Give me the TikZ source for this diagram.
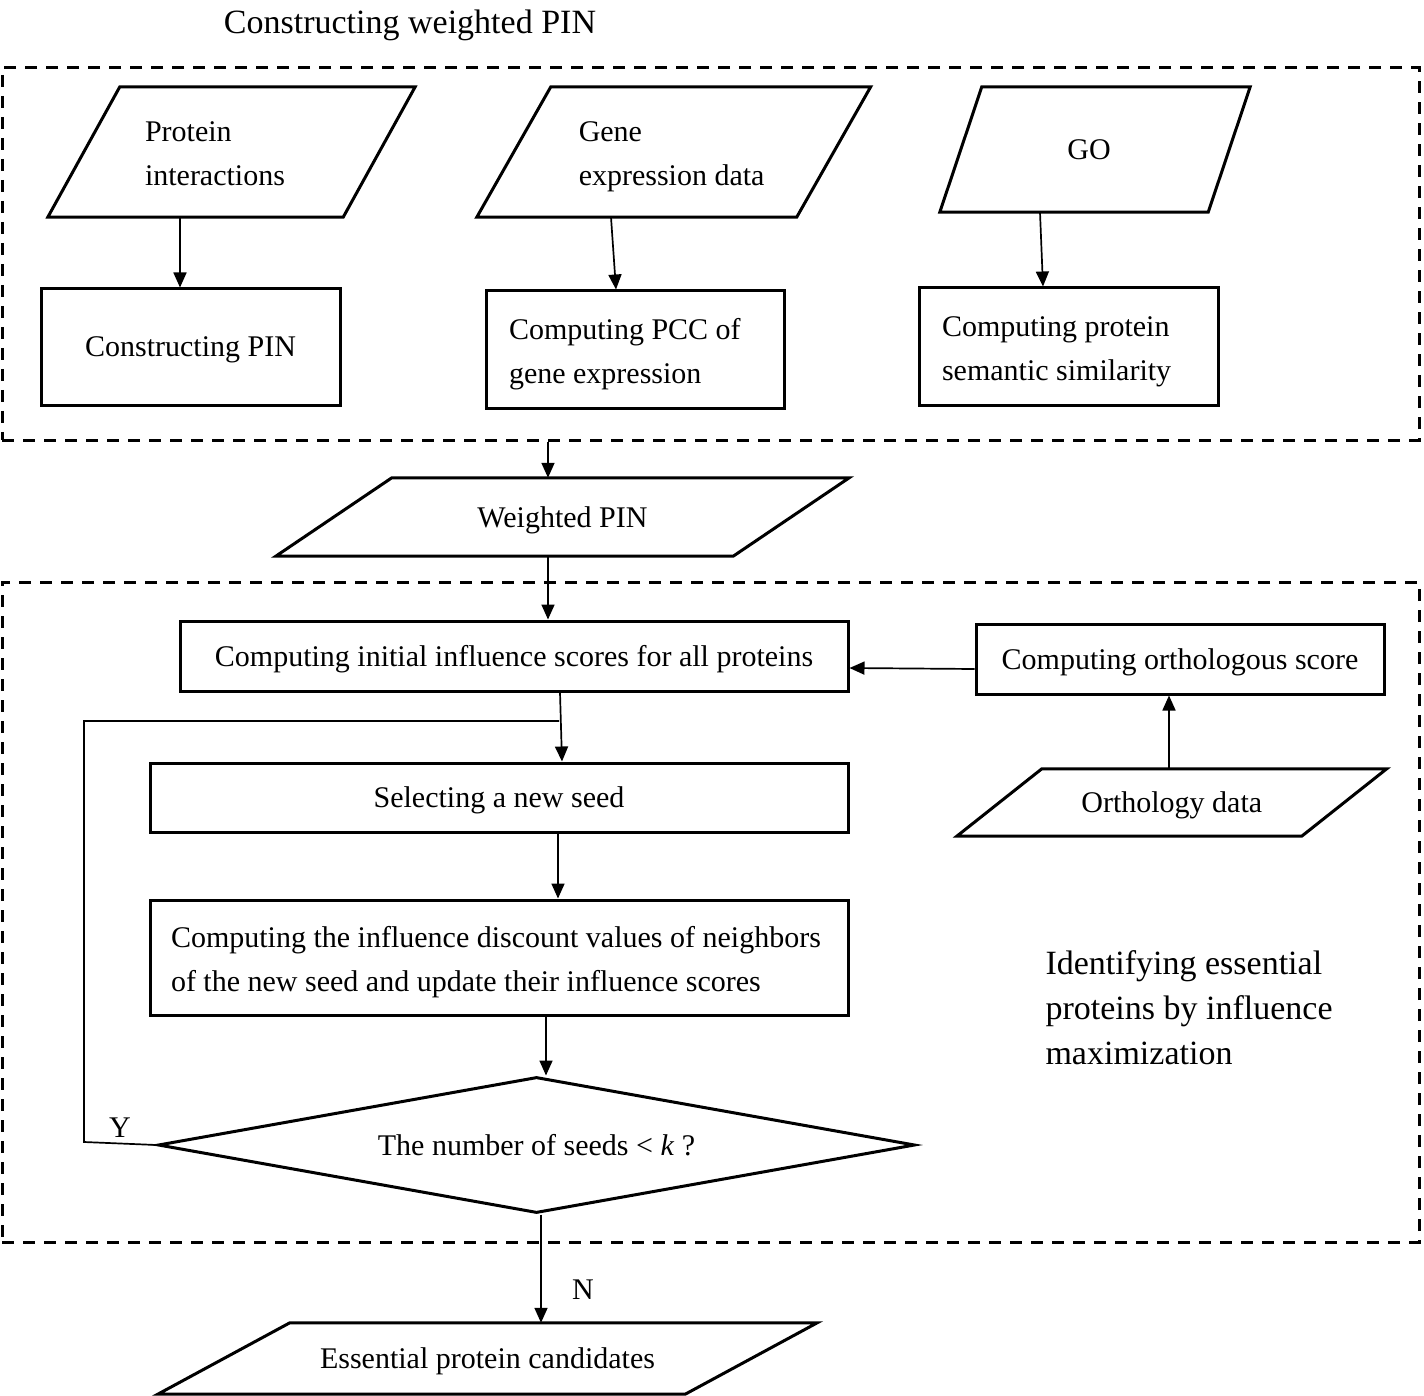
\documentclass[tikz,border=0pt]{standalone}
\usepackage{fontspec}
\setmainfont{Liberation Serif}
\usetikzlibrary{shapes.geometric,arrows.meta}

% slanted outline round a data node
\newcommand{\slantframe}[2]{%
  \draw[boxline] ([xshift=-#2]#1.south west) -- ([xshift=#2]#1.north west)
    -- ([xshift=#2]#1.north east) -- ([xshift=-#2]#1.south east) -- cycle;}

\begin{document}
\begin{tikzpicture}[x=1pt,y=-1pt,>={Triangle[length=15pt,width=13pt]},
  every node/.style={font=\fontsize{30}{44}\selectfont},
  boxline/.style={line width=3pt},
  inner/.style={inner sep=0pt,text depth=-12pt},
  twoline/.style={text height=20pt,text depth=40pt,align=flush left},
  proc/.style={inner,draw,line width=3pt},
  datain/.style={inner},
  frame/.style={draw,line width=3pt,dash pattern=on 12pt off 9pt,inner sep=0pt},
  link/.style={line width=1.7pt},
  flow/.style={link,->}]
  \useasboundingbox (0,0) rectangle (1424,1396);

  %--- Constructing weighted PIN -------------------------------------------
  \node[font=\fontsize{34}{40}\selectfont] (title) at (410,25) {Constructing weighted PIN};
  \node[frame,minimum width=1417,minimum height=372] (top) at (710.5,254) {};

  % input data
  \node[datain,twoline,minimum width=295,minimum height=130,text width=173]
       (prot) at (231.5,152) {Protein\\interactions};
  \slantframe{prot}{36}
  \node[datain,twoline,minimum width=319.5,minimum height=130,text width=190]
       (gene) at (673.75,152) {Gene\\expression data};
  \slantframe{gene}{37}
  \node[datain,minimum width=268,minimum height=125] (go) at (1095,149.5)
       {\hspace*{-12pt}GO};
  \slantframe{go}{21}

  % processing steps
  \node[proc,minimum width=299,minimum height=116] (cpin) at (190.5,347) {Constructing PIN};
  \node[proc,twoline,minimum width=298,minimum height=117,text width=252]
       (pcc) at (635,349.5) {Computing PCC of\\gene expression};
  \node[proc,twoline,minimum width=299,minimum height=117,text width=253]
       (sem) at (1068.5,346.5) {Computing protein\\semantic similarity};

  \draw[flow] ([xshift=-51.5]prot.south) -- ([xshift=-10.5]cpin.north);
  \draw[flow] ([xshift=-62.75]gene.south) -- ([xshift=-19]pcc.north);
  \draw[flow] ([xshift=-55]go.south) -- ([xshift=-25.5]sem.north);

  %--- Weighted PIN ----------------------------------------------------------
  \node[datain,minimum width=457,minimum height=78] (wpin) at (562.5,517) {Weighted PIN};
  \slantframe{wpin}{58}
  \draw[flow] ([xshift=-162.5]top.south) -- ([xshift=-14.5]wpin.north);

  %--- Identifying essential proteins by influence maximization -------------
  \node[frame,minimum width=1417,minimum height=660] (bottom) at (710.5,912) {};
  \node[anchor=west,align=left,font=\fontsize{34}{45}\selectfont]
       (ident) at (1042,1008) {Identifying essential\\proteins by influence\\maximization};

  \node[proc,minimum width=668,minimum height=70] (init) at (514,656)
       {Computing initial influence scores for all proteins};
  \node[proc,minimum width=408,minimum height=70] (orth) at (1180,659)
       {Computing orthologous score};
  \node[datain,minimum width=344.5,minimum height=67] (odata) at (1171.75,802.5)
       {Orthology data};
  \slantframe{odata}{42.5}
  \node[proc,minimum width=698,minimum height=69] (sel) at (499,797.5)
       {Selecting a new seed};
  \node[proc,twoline,minimum width=698,minimum height=115,text width=656] (disc) at (499,957.5)
       {Computing the influence discount values of neighbors\\of the new seed and update their influence scores};
  \node[draw,diamond,aspect=5.57,line width=3pt,inner sep=0pt,
       minimum width=757,minimum height=136] (dec) at (536.5,1145)
       {The number of seeds < \textit{k} ?};

  \draw[flow] ([xshift=-14.5]wpin.south) -- ([xshift=34]init.north);
  \draw[flow] ([yshift=-10]orth.west) -- ([yshift=-12]init.east);
  \draw[flow] ([xshift=-2.75]odata.north) -- ([xshift=-11]orth.south);
  \draw[flow] ([xshift=46]init.south) -- ([xshift=63]sel.north);
  \draw[flow] ([xshift=59]sel.south) -- ([xshift=59]disc.north);
  \draw[flow] ([xshift=47]disc.south) -- ([xshift=9.5]dec.north);

  % loop back while seeds are missing
  \coordinate (loopin) at (559,721);
  \draw[link] (dec.west) -- (84,1142) |- (loopin);
  \node (yes) at (120,1128) {Y};

  %--- Result ----------------------------------------------------------------
  \node[datain,minimum width=527,minimum height=71] (ess) at (487.5,1358.5)
       {Essential protein candidates};
  \slantframe{ess}{66}
  \draw[flow] ([xshift=4.5]dec.south) -- ([xshift=53.5]ess.north);
  \node (no) at (583,1290) {N};
\end{tikzpicture}
\end{document}
